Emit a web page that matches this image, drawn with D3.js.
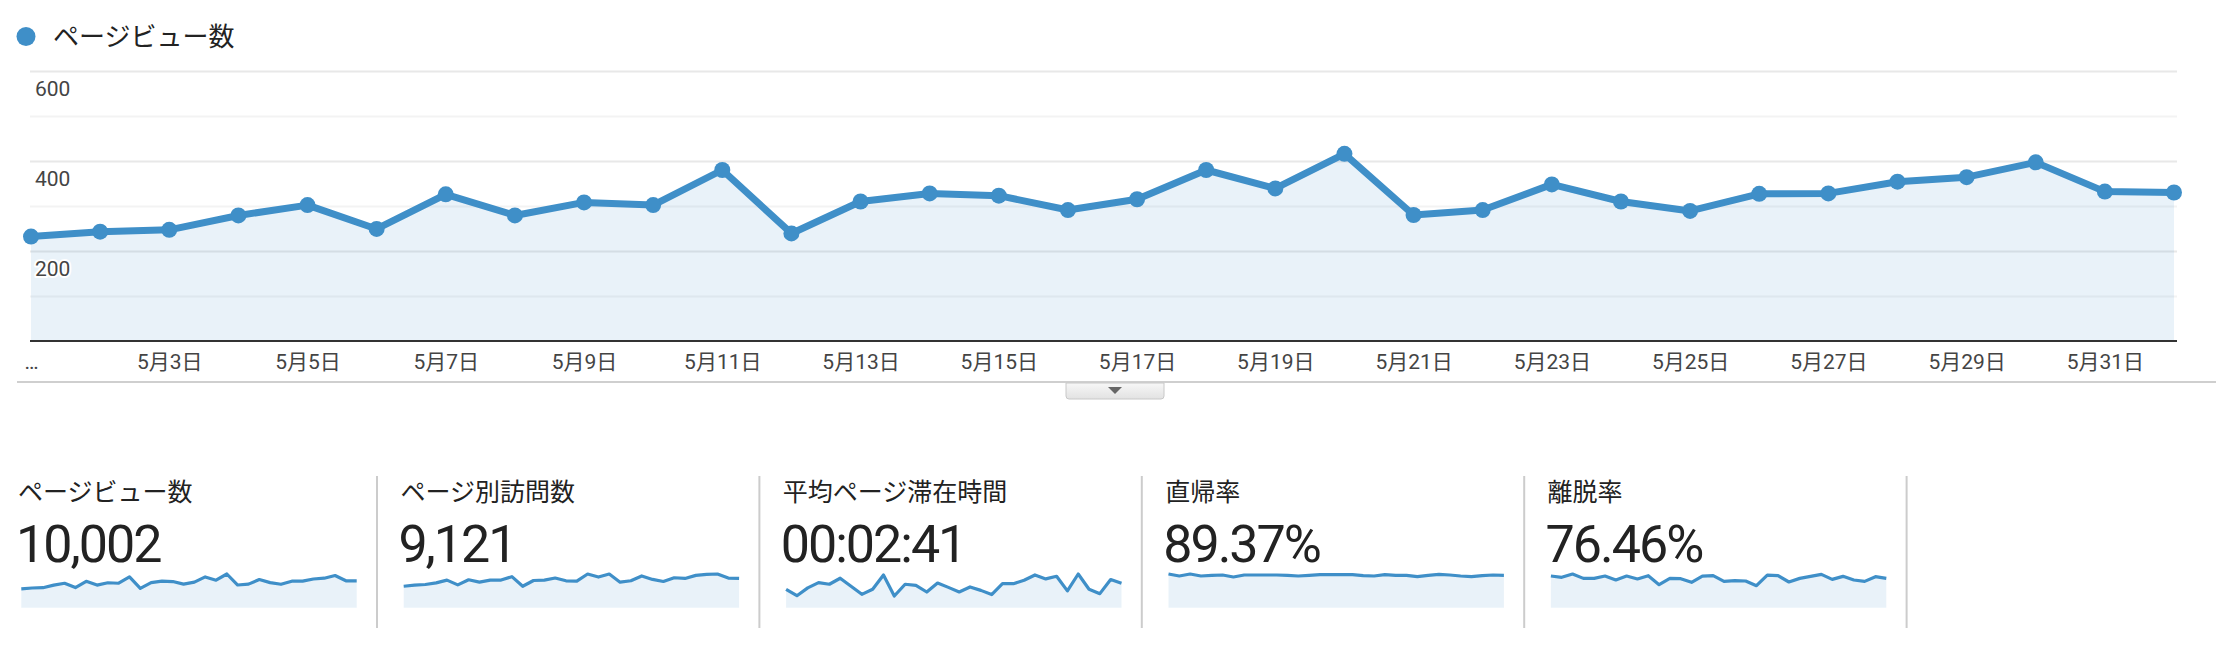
<!DOCTYPE html>
<html><head><meta charset="utf-8">
<script src="https://cdn.jsdelivr.net/npm/d3@7"></script>
<style>
html,body{margin:0;padding:0;background:#fff;}
svg{display:block;font-family:Roboto,"Noto Sans CJK JP",sans-serif;}
</style></head><body>
<svg id="c" width="2216" height="648"></svg>
<script>
// ---------- data ----------
const seriesName = "ページビュー数";
const dates = ["05-01","05-02","05-03","05-04","05-05","05-06","05-07","05-08","05-09","05-10",
  "05-11","05-12","05-13","05-14","05-15","05-16","05-17","05-18","05-19","05-20",
  "05-21","05-22","05-23","05-24","05-25","05-26","05-27","05-28","05-29","05-30",
  "05-31","06-01"];
const pageViews = [232,243,247,279,302,249,326,279,308,302,380,239,310,328,323,291,
  315,380,339,416,280,291,348,310,289,327,328,354,364,397,332,330];
const xTickDates = ["05-01","05-03","05-05","05-07","05-09","05-11","05-13","05-15",
  "05-17","05-19","05-21","05-23","05-25","05-27","05-29","05-31"];
const xTickLabels = ["…","5月3日","5月5日","5月7日","5月9日","5月11日","5月13日","5月15日",
  "5月17日","5月19日","5月21日","5月23日","5月25日","5月27日","5月29日","5月31日"];
const yTickLabels = [200,400,600];
const gridValues = [100,200,300,400,500,600];

const metricNames = ["ページビュー数","ページ別訪問数","平均ページ滞在時間","直帰率","離脱率"];
const metricTotals = ["10,002","9,121","00:02:41","89.37%","76.46%"];
const sparkPageViews = pageViews;
const sparkUniquePageViews = [218,229,236,253,281,232,284,260,281,281,316,218,277,281,302,274,
  271,343,312,343,260,274,323,288,267,305,298,329,340,343,302,298];
const sparkAvgTime = [135,88,145,184,172,216,157,98,135,240,86,172,164,115,181,149,
  115,152,127,96,176,176,201,240,211,230,123,247,135,103,206,179];
const sparkBounce = [92.9,87.4,92.9,87.4,89.2,90.1,84.6,90.1,90.1,90.1,90.1,89.2,87.4,89.2,91.0,91.0,
  91.0,91.0,88.3,87.4,91.0,89.2,89.2,85.5,89.2,92.0,90.1,87.4,85.5,88.3,90.1,89.2];
const sparkExit = [82.7,79.3,88.0,76.6,76.6,82.7,72.3,82.7,74.9,83.6,60.1,76.6,75.8,66.2,82.7,83.6,
  68.8,70.5,69.7,57.5,85.3,83.6,67.1,76.6,81.9,87.1,74.0,81.9,72.3,68.8,81.0,76.6];
const sparkSeries = [sparkPageViews,sparkUniquePageViews,sparkAvgTime,sparkBounce,sparkExit];

// ---------- drawing ----------
const svg = d3.select("#c");
const blue = "#3f8fc8";
const font = 'Roboto,"Noto Sans CJK JP",sans-serif';

const x = d3.scalePoint().domain(dates).range([31, 2174]);
const y = d3.scaleLinear().domain([0, 600]).range([341, 71]);

// legend
svg.append("circle").attr("cx", 26).attr("cy", 36.5).attr("r", 9.5).attr("fill", blue);
svg.append("text").attr("x", 53).attr("y", 46).attr("font-size", 26).attr("fill", "#222")
  .text(seriesName);

// gridlines
const grid = svg.append("g").attr("transform", "translate(30,0)")
  .call(d3.axisLeft(y).tickValues(gridValues).tickSize(-(2177 - 30)).tickFormat(""));
grid.select(".domain").remove();
grid.selectAll(".tick line")
  .attr("stroke", d => d % 200 === 0 ? "#e8e8e8" : "#f3f3f3")
  .attr("stroke-width", 2);

// area + line
const area = d3.area().x((d, i) => x(dates[i])).y0(y(0)).y1(d => y(d));
svg.append("path").datum(pageViews).attr("d", area)
  .attr("fill", blue).attr("fill-opacity", 0.115);
const line = d3.line().x((d, i) => x(dates[i])).y(d => y(d));
svg.append("path").datum(pageViews).attr("d", line)
  .attr("fill", "none").attr("stroke", blue).attr("stroke-width", 7)
  .attr("stroke-linejoin", "round");
svg.append("g").selectAll("circle").data(pageViews).join("circle")
  .attr("cx", (d, i) => x(dates[i])).attr("cy", d => y(d)).attr("r", 8).attr("fill", blue);

// baseline
svg.append("line").attr("x1", 30).attr("x2", 2177).attr("y1", y(0)).attr("y2", y(0))
  .attr("stroke", "#333").attr("stroke-width", 2);

// y labels
const ya = svg.append("g").attr("transform", "translate(0,0)")
  .call(d3.axisRight(y).tickValues(yTickLabels).tickSize(0).tickPadding(35));
ya.attr("font-family", font).attr("font-size", 21);
ya.select(".domain").remove();
ya.selectAll("text").attr("y", 18).attr("fill", "#444")
  .attr("stroke", "#fff").attr("stroke-width", 4).attr("paint-order", "stroke")
  .attr("stroke-linejoin", "round");

// x labels
const xa = svg.append("g").attr("transform", `translate(0,${y(0)})`)
  .call(d3.axisBottom(x).tickValues(xTickDates).tickSize(0).tickPadding(13)
    .tickFormat((d, i) => xTickLabels[i]));
xa.attr("font-family", font).attr("font-size", 21);
xa.select(".domain").remove();
xa.selectAll("text").attr("fill", "#444");

// separator line under chart + tab
svg.append("line").attr("x1", 17).attr("x2", 2216).attr("y1", 382).attr("y2", 382)
  .attr("stroke", "#cfcfcf").attr("stroke-width", 2);
const defs = svg.append("defs");
const gr = defs.append("linearGradient").attr("id", "tabg").attr("x1", 0).attr("x2", 0).attr("y1", 0).attr("y2", 1);
gr.append("stop").attr("offset", "0%").attr("stop-color", "#f7f7f7");
gr.append("stop").attr("offset", "100%").attr("stop-color", "#e2e2e2");
svg.append("path")
  .attr("d", "M1066,383 L1066,396 Q1066,399 1069,399 L1161,399 Q1164,399 1164,396 L1164,383 Z")
  .attr("fill", "url(#tabg)").attr("stroke", "#c8c8c8").attr("stroke-width", 1);
svg.append("path").attr("d", "M1108,387 L1122,387 L1115,394 Z").attr("fill", "#666");

// metric cards
const pitch = 382.4;
for (let k = 0; k <= 4; k++) {
  svg.append("line").attr("x1", 377 + k * pitch).attr("x2", 377 + k * pitch)
    .attr("y1", 476).attr("y2", 628).attr("stroke", "#cccccc").attr("stroke-width", 2);
}
metricNames.forEach((name, k) => {
  const ox = k * pitch;
  svg.append("text").attr("x", 18 + ox).attr("y", 501).attr("font-size", 25)
    .attr("fill", "#222").text(name);
  svg.append("text").attr("x", 16 + ox).attr("y", 562).attr("font-size", 52)
    .attr("letter-spacing", "-2px").attr("fill", "#222").text(metricTotals[k]);
  const vals = sparkSeries[k];
  const xs = d3.scaleLinear().domain([0, vals.length - 1]).range([21.3 + ox, 356.7 + ox]);
  const ys = d3.scaleLinear().domain([0, d3.max(vals)]).range([607.7, 574]);
  svg.append("path").datum(vals)
    .attr("d", d3.area().x((d, i) => xs(i)).y0(ys(0)).y1(d => ys(d)))
    .attr("fill", blue).attr("fill-opacity", 0.115);
  svg.append("path").datum(vals)
    .attr("d", d3.line().x((d, i) => xs(i)).y(d => ys(d)))
    .attr("fill", "none").attr("stroke", blue).attr("stroke-width", 3.2)
    .attr("stroke-linejoin", "round");
});
</script>
</body></html>
